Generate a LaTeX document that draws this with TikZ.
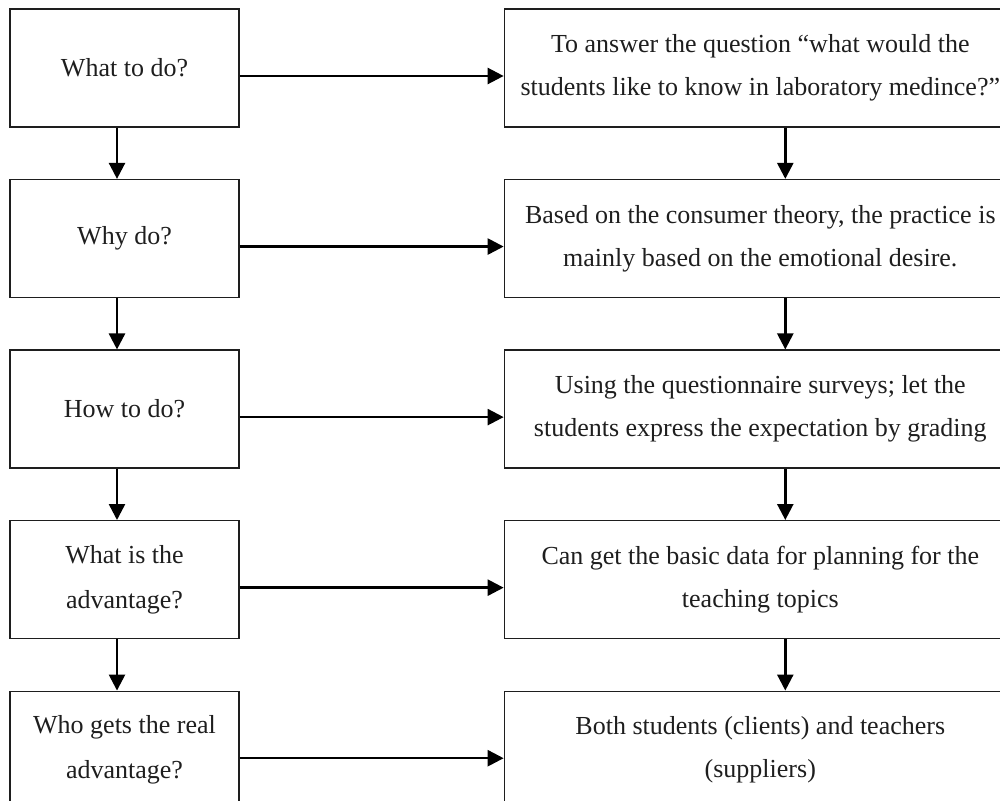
\documentclass[tikz,border=0pt]{standalone}
\usepackage{fontspec}
\setmainfont{Liberation Serif}
\usetikzlibrary{arrows.meta,positioning}
\definecolor{ink}{HTML}{1E1E1E}
\tikzset{
  >={Triangle[length=16pt,width=16pt]},
  every node/.style={font=\fontsize{26pt}{45pt}\selectfont,text=ink},
  askbox/.style={draw=ink,line width=1.3pt,minimum width=229pt,minimum height=118pt,align=center,inner sep=0pt},
  answerbox/.style={askbox,minimum width=512pt,font=\fontsize{26pt}{43pt}\selectfont},
  flow/.style={->,line width=2.5pt,draw=black},
}

\begin{document}
\begin{tikzpicture}[x=1pt,y=1pt,node distance=51.25pt and 264pt]
\useasboundingbox (0,0) rectangle (1000,-800);

\node[askbox] (what) at (124.5,-68) {What to do?};
\node[askbox,below=of what] (why) {Why do?};
\node[askbox,below=of why] (how) {How to do?};
\node[askbox,below=of how] (gain) {What is the\\advantage?};
\node[askbox,below=of gain] (who) {Who gets the real\\advantage?};

\node[answerbox,right=of what] (whatAns)
{To answer the question “what would the\\students like to know in laboratory medince?”};
\node[answerbox,right=of why] (whyAns)
{Based on the consumer theory, the practice is\\mainly based on the emotional desire.};
\node[answerbox,right=of how] (howAns)
{Using the questionnaire surveys; let the\\students express the expectation by grading};
\node[answerbox,right=of gain] (gainAns)
{Can get the basic data for planning for the\\teaching topics};
\node[answerbox,right=of who] (whoAns)
{Both students (clients) and teachers\\(suppliers)};

\draw[flow] ([yshift=-8pt]what.east) -- ([yshift=-8pt]whatAns.west);
\draw[flow] ([yshift=-8pt]why.east) -- ([yshift=-8pt]whyAns.west);
\draw[flow] ([yshift=-8pt]how.east) -- ([yshift=-8pt]howAns.west);
\draw[flow] ([yshift=-8pt]gain.east) -- ([yshift=-8pt]gainAns.west);
\draw[flow] ([yshift=-8pt]who.east) -- ([yshift=-8pt]whoAns.west);

\draw[flow] ([xshift=-7.5pt]what.south) -- ([xshift=-7.5pt]why.north);
\draw[flow] ([xshift=-7.5pt]why.south) -- ([xshift=-7.5pt]how.north);
\draw[flow] ([xshift=-7.5pt]how.south) -- ([xshift=-7.5pt]gain.north);
\draw[flow] ([xshift=-7.5pt]gain.south) -- ([xshift=-7.5pt]who.north);

\draw[flow] ([xshift=25pt]whatAns.south) -- ([xshift=25pt]whyAns.north);
\draw[flow] ([xshift=25pt]whyAns.south) -- ([xshift=25pt]howAns.north);
\draw[flow] ([xshift=25pt]howAns.south) -- ([xshift=25pt]gainAns.north);
\draw[flow] ([xshift=25pt]gainAns.south) -- ([xshift=25pt]whoAns.north);

\end{tikzpicture}
\end{document}
